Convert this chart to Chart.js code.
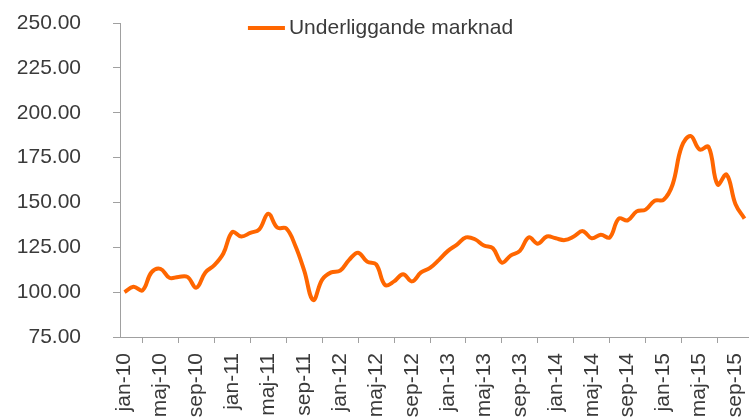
<!DOCTYPE html>
<html lang="sv">
<head>
  <meta charset="UTF-8" />
  <title>Underliggande marknad</title>
  <script src="https://cdn.jsdelivr.net/npm/chart.js"></script>
  <style>
    body { margin: 0; background: #fff; }
    #wrap { width: 749px; height: 417px; }
  </style>
</head>
<body>
  <div id="wrap"><canvas id="graf" width="749" height="417"></canvas></div>
  <script>
    // månader och år för kategoriaxeln (jan-10 .. okt-15)
    const manader = ['jan', 'feb', 'mar', 'apr', 'maj', 'jun', 'jul', 'aug', 'sep', 'okt', 'nov', 'dec'];
    const ar = ['10', '11', '12', '13', '14', '15'];
    const antalPunkter = 70;
    const kategorier = [];
    for (let i = 0; i < antalPunkter; i++) {
      kategorier.push(manader[i % 12] + '-' + ar[Math.floor(i / 12)]);
    }

    const underliggande = [
      100, 103, 101, 111, 113, 108, 108.5, 108.5, 102.5, 111,
      115, 121.5, 133.5, 131, 133, 135, 143.7, 136, 135.5, 126,
      112, 95.6, 107, 111, 112, 118, 122, 117, 115.5, 104,
      106, 110, 106, 111, 113.5, 118, 123, 126.5, 130.5, 129.5,
      126, 124.5, 116.5, 120.5, 123, 130.5, 127, 131, 130, 129,
      131, 134, 130, 132, 130.5, 141, 140, 145, 146, 151,
      151.5, 160, 181, 187, 179.5, 181, 160, 165.5, 149, 141
    ];

    const yMin = 75, yMax = 250, yStep = 25;
    const etikettVar = 4; // visa var fjärde månad

    const orange = '#FF6600';
    const gra = '#A0A0A0';
    const textFarg = '#3a3a3a';
    const typsnitt = { family: "'Liberation Sans', Arial, sans-serif", size: 21 };

    // legenden ligger inne i diagramytan i originalet, så den ritas här
    const egenLegend = {
      id: 'egenLegend',
      afterDraw(chart) {
        const ctx = chart.ctx;
        const ds = chart.data.datasets[0];
        ctx.save();
        ctx.font = typsnitt.size + 'px ' + typsnitt.family;
        const textBredd = ctx.measureText(ds.label).width;
        const linje = 37, mellanrum = 4;
        const x0 = chart.width / 2 - (linje + mellanrum + textBredd) / 2 + 6;
        const y = 28;
        ctx.strokeStyle = ds.borderColor;
        ctx.lineWidth = 4;
        ctx.beginPath();
        ctx.moveTo(x0, y);
        ctx.lineTo(x0 + linje, y);
        ctx.stroke();
        ctx.fillStyle = textFarg;
        ctx.textBaseline = 'middle';
        ctx.fillText(ds.label, x0 + linje + mellanrum, y);
        ctx.restore();
      }
    };

    new Chart(document.getElementById('graf'), {
      type: 'line',
      data: {
        labels: kategorier,
        datasets: [{
          label: 'Underliggande marknad',
          data: underliggande,
          borderColor: orange,
          backgroundColor: orange,
          borderWidth: 4,
          pointRadius: 0,
          tension: 0.4,
          fill: false
        }]
      },
      options: {
        responsive: false,
        animation: false,
        layout: { padding: { top: 23, left: 0, right: 0, bottom: 0 } },
        plugins: {
          tooltip: { enabled: false },
          legend: { display: false }
        },
        scales: {
          x: {
            type: 'category',
            offset: true,
            grid: { offset: true, drawOnChartArea: false, drawTicks: true, tickLength: 6, color: gra },
            border: { display: true, color: gra, width: 1 },
            ticks: {
              autoSkip: false,
              maxRotation: 90,
              minRotation: 90,
              padding: 10,
              color: textFarg,
              font: typsnitt,
              callback: function (value, index) {
                return index % etikettVar === 0 ? this.getLabelForValue(value) : null;
              }
            },
            afterFit(scale) {
              scale.height = 80;
              scale.paddingLeft = 0;
              scale.paddingRight = 0;
            }
          },
          y: {
            min: yMin,
            max: yMax,
            grid: { drawOnChartArea: false, drawTicks: true, tickLength: 7, color: gra },
            border: { display: true, color: gra, width: 1 },
            ticks: {
              stepSize: yStep,
              padding: 32,
              color: textFarg,
              font: typsnitt,
              callback: v => v.toFixed(2)
            },
            afterFit(scale) {
              scale.width = 120;
              scale.paddingTop = 0;
              scale.paddingBottom = 0;
            }
          }
        }
      },
      plugins: [egenLegend]
    });
  </script>
</body>
</html>
